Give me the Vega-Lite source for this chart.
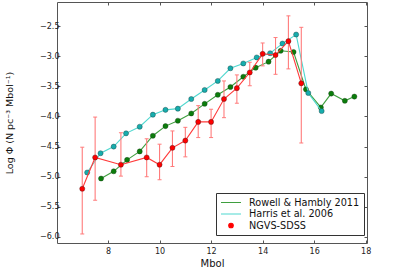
{
  "$schema": "https://vega.github.io/schema/vega-lite/v6.json",
  "width": 310,
  "height": 241,
  "autosize": {"type": "none"},
  "padding": {"left": 57, "top": 2, "right": 48, "bottom": 28},
  "background": "white",
  "config": {
    "view": {"stroke": "#555", "strokeWidth": 1},
    "font": "DejaVu Sans",
    "axis": {"grid": false, "domain": false, "tickSize": -3, "tickColor": "#555", "labelFontSize": 8, "labelColor": "#222", "titleFontWeight": "normal", "titleColor": "#111", "labelFont": "DejaVu Sans", "titleFont": "DejaVu Sans"},
    "legend": {"title": null, "orient": "none", "legendX": 159, "legendY": 191, "strokeColor": "#333", "fillColor": "white", "padding": 4, "labelFontSize": 9.7, "labelFont": "DejaVu Sans", "labelColor": "#111", "labelOffset": 7, "clipHeight": 11, "rowPadding": 0.5, "cornerRadius": 0, "symbolOpacity": 1, "symbolStrokeWidth": 1.2}
  },
  "datasets": {
    "lf": [
      {"s": "Rowell & Hambly 2011", "x": 7.73, "y": -5.03},
      {"s": "Rowell & Hambly 2011", "x": 8.22, "y": -4.91},
      {"s": "Rowell & Hambly 2011", "x": 8.74, "y": -4.72},
      {"s": "Rowell & Hambly 2011", "x": 9.23, "y": -4.58},
      {"s": "Rowell & Hambly 2011", "x": 9.74, "y": -4.32},
      {"s": "Rowell & Hambly 2011", "x": 10.23, "y": -4.16},
      {"s": "Rowell & Hambly 2011", "x": 10.71, "y": -4.07},
      {"s": "Rowell & Hambly 2011", "x": 11.23, "y": -3.95},
      {"s": "Rowell & Hambly 2011", "x": 11.75, "y": -3.79},
      {"s": "Rowell & Hambly 2011", "x": 12.26, "y": -3.64},
      {"s": "Rowell & Hambly 2011", "x": 12.75, "y": -3.51},
      {"s": "Rowell & Hambly 2011", "x": 13.25, "y": -3.34},
      {"s": "Rowell & Hambly 2011", "x": 13.73, "y": -3.19},
      {"s": "Rowell & Hambly 2011", "x": 14.23, "y": -3.09},
      {"s": "Rowell & Hambly 2011", "x": 14.7, "y": -2.91},
      {"s": "Rowell & Hambly 2011", "x": 15.2, "y": -2.93},
      {"s": "Rowell & Hambly 2011", "x": 15.68, "y": -3.55},
      {"s": "Rowell & Hambly 2011", "x": 16.26, "y": -3.85},
      {"s": "Rowell & Hambly 2011", "x": 16.66, "y": -3.62},
      {"s": "Rowell & Hambly 2011", "x": 17.19, "y": -3.74},
      {"s": "Rowell & Hambly 2011", "x": 17.56, "y": -3.67},
      {"s": "Harris et al. 2006", "x": 7.19, "y": -4.93},
      {"s": "Harris et al. 2006", "x": 7.71, "y": -4.61},
      {"s": "Harris et al. 2006", "x": 8.22, "y": -4.5},
      {"s": "Harris et al. 2006", "x": 8.7, "y": -4.28},
      {"s": "Harris et al. 2006", "x": 9.23, "y": -4.17},
      {"s": "Harris et al. 2006", "x": 9.74, "y": -3.97},
      {"s": "Harris et al. 2006", "x": 10.23, "y": -3.89},
      {"s": "Harris et al. 2006", "x": 10.71, "y": -3.87},
      {"s": "Harris et al. 2006", "x": 11.23, "y": -3.71},
      {"s": "Harris et al. 2006", "x": 11.75, "y": -3.56},
      {"s": "Harris et al. 2006", "x": 12.26, "y": -3.41},
      {"s": "Harris et al. 2006", "x": 12.75, "y": -3.2},
      {"s": "Harris et al. 2006", "x": 13.25, "y": -3.12},
      {"s": "Harris et al. 2006", "x": 13.77, "y": -3.02},
      {"s": "Harris et al. 2006", "x": 14.29, "y": -2.95},
      {"s": "Harris et al. 2006", "x": 14.77, "y": -2.79},
      {"s": "Harris et al. 2006", "x": 15.3, "y": -2.64},
      {"s": "Harris et al. 2006", "x": 15.77, "y": -3.61},
      {"s": "Harris et al. 2006", "x": 16.29, "y": -3.91},
      {"s": "NGVS-SDSS", "x": 7.0, "y": -5.2, "lo": -5.95, "hi": -4.51},
      {"s": "NGVS-SDSS", "x": 7.5, "y": -4.68, "lo": -5.39, "hi": -4.01},
      {"s": "NGVS-SDSS", "x": 8.5, "y": -4.8, "lo": -4.99, "hi": -4.27},
      {"s": "NGVS-SDSS", "x": 9.5, "y": -4.68, "lo": -5.0, "hi": -4.37},
      {"s": "NGVS-SDSS", "x": 10.0, "y": -4.8, "lo": -5.05, "hi": -4.46},
      {"s": "NGVS-SDSS", "x": 10.5, "y": -4.52, "lo": -4.83, "hi": -4.24},
      {"s": "NGVS-SDSS", "x": 11.0, "y": -4.4, "lo": -4.67, "hi": -4.18},
      {"s": "NGVS-SDSS", "x": 11.5, "y": -4.09, "lo": -4.35, "hi": -3.82},
      {"s": "NGVS-SDSS", "x": 12.0, "y": -4.09, "lo": -4.35, "hi": -3.88},
      {"s": "NGVS-SDSS", "x": 12.5, "y": -3.71, "lo": -4.02, "hi": -3.41},
      {"s": "NGVS-SDSS", "x": 13.0, "y": -3.53, "lo": -3.78, "hi": -3.31},
      {"s": "NGVS-SDSS", "x": 13.5, "y": -3.27, "lo": -3.49, "hi": -3.1},
      {"s": "NGVS-SDSS", "x": 14.0, "y": -2.96, "lo": -3.16, "hi": -2.78},
      {"s": "NGVS-SDSS", "x": 14.5, "y": -2.98, "lo": -3.3, "hi": -2.69},
      {"s": "NGVS-SDSS", "x": 15.0, "y": -2.75, "lo": -3.21, "hi": -2.33},
      {"s": "NGVS-SDSS", "x": 15.5, "y": -3.45, "lo": -4.44, "hi": -2.52}
    ]
  },
  "data": {"name": "lf"},
  "resolve": {"axis": {"x": "independent", "y": "independent"}},
  "layer": [
    {
      "transform": [{"filter": "datum.s === 'Rowell & Hambly 2011'"}],
      "mark": {"type": "line", "stroke": "#3f9f3f", "strokeWidth": 1.1},
      "encoding": {
        "x": {"field": "x", "type": "quantitative", "scale": {"domain": [6.02, 18.05], "nice": false, "zero": false},
              "axis": {"orient": "bottom", "values": [8, 10, 12, 14, 16, 18], "title": "Mbol", "titleFontSize": 10, "titlePadding": 3, "labelPadding": 7}},
        "y": {"field": "y", "type": "quantitative", "scale": {"domain": [-6.1, -2.1], "nice": false, "zero": false},
              "axis": {"orient": "left", "values": [-6, -5.5, -5, -4.5, -4, -3.5, -3, -2.5], "format": ".1f", "title": "Log Φ (N pc⁻³ Mbol⁻¹)", "titleFontSize": 9.5, "titlePadding": 25, "labelPadding": 1}}
      }
    },
    {
      "transform": [{"filter": "datum.s === 'Rowell & Hambly 2011'"}],
      "mark": {"type": "point", "filled": true, "size": 26, "opacity": 1, "color": "#0b7d0b", "stroke": "#1a3a1a", "strokeWidth": 0.4},
      "encoding": {
        "x": {"field": "x", "type": "quantitative", "axis": null},
        "y": {"field": "y", "type": "quantitative", "axis": null}
      }
    },
    {
      "transform": [{"filter": "datum.s === 'Harris et al. 2006'"}],
      "mark": {"type": "line", "stroke": "#4fd8cf", "strokeWidth": 1.1},
      "encoding": {
        "x": {"field": "x", "type": "quantitative", "axis": null},
        "y": {"field": "y", "type": "quantitative", "axis": null}
      }
    },
    {
      "transform": [{"filter": "datum.s === 'Harris et al. 2006'"}],
      "mark": {"type": "point", "filled": true, "size": 26, "opacity": 1, "color": "#16adad", "stroke": "#1a3a3a", "strokeWidth": 0.4},
      "encoding": {
        "x": {"field": "x", "type": "quantitative", "axis": null},
        "y": {"field": "y", "type": "quantitative", "axis": null}
      }
    },
    {
      "transform": [{"filter": "datum.s === 'NGVS-SDSS'"}],
      "mark": {"type": "rule", "stroke": "#ff7b7b", "strokeWidth": 1.1},
      "encoding": {
        "x": {"field": "x", "type": "quantitative", "axis": null},
        "y": {"field": "lo", "type": "quantitative", "axis": null},
        "y2": {"field": "hi"}
      }
    },
    {
      "transform": [{"filter": "datum.s === 'NGVS-SDSS'"}],
      "mark": {"type": "tick", "orient": "horizontal", "color": "#ff7b7b", "size": 4, "thickness": 1, "opacity": 1},
      "encoding": {
        "x": {"field": "x", "type": "quantitative", "axis": null},
        "y": {"field": "lo", "type": "quantitative", "axis": null}
      }
    },
    {
      "transform": [{"filter": "datum.s === 'NGVS-SDSS'"}],
      "mark": {"type": "tick", "orient": "horizontal", "color": "#ff7b7b", "size": 4, "thickness": 1, "opacity": 1},
      "encoding": {
        "x": {"field": "x", "type": "quantitative", "axis": null},
        "y": {"field": "hi", "type": "quantitative", "axis": null}
      }
    },
    {
      "transform": [{"filter": "datum.s === 'NGVS-SDSS'"}],
      "mark": {"type": "line", "stroke": "#ff3a3a", "strokeWidth": 1.1},
      "encoding": {
        "x": {"field": "x", "type": "quantitative", "axis": null},
        "y": {"field": "y", "type": "quantitative", "axis": null}
      }
    },
    {
      "transform": [{"filter": "datum.s === 'NGVS-SDSS'"}],
      "mark": {"type": "point", "filled": true, "size": 26, "opacity": 1, "color": "#ff0000", "stroke": "#3a1a1a", "strokeWidth": 0.4},
      "encoding": {
        "x": {"field": "x", "type": "quantitative", "axis": {"orient": "top", "values": [8, 10, 12, 14, 16, 18], "labels": false, "title": null}},
        "y": {"field": "y", "type": "quantitative", "axis": {"orient": "right", "values": [-6, -5.5, -5, -4.5, -4, -3.5, -3, -2.5], "labels": false, "title": null}}
      }
    },
    {
      "mark": {"type": "point", "filled": true, "opacity": 0},
      "encoding": {
        "x": {"field": "x", "type": "quantitative", "axis": null},
        "y": {"field": "y", "type": "quantitative", "axis": null},
        "fill": {"field": "s", "type": "nominal",
          "scale": {"domain": ["Rowell & Hambly 2011", "Harris et al. 2006", "NGVS-SDSS"], "range": ["#3f9f3f", "#4fd8cf", "#ff0000"]}},
        "stroke": {"field": "s", "type": "nominal",
          "scale": {"domain": ["Rowell & Hambly 2011", "Harris et al. 2006", "NGVS-SDSS"], "range": ["#3f9f3f", "#4fd8cf", "#ff0000"]}},
        "shape": {"field": "s", "type": "nominal",
          "scale": {"domain": ["Rowell & Hambly 2011", "Harris et al. 2006", "NGVS-SDSS"], "range": ["stroke", "stroke", "circle"]}},
        "size": {"field": "s", "type": "nominal",
          "scale": {"type": "ordinal", "domain": ["Rowell & Hambly 2011", "Harris et al. 2006", "NGVS-SDSS"], "range": [400, 400, 20]}}
      }
    }
  ]
}
